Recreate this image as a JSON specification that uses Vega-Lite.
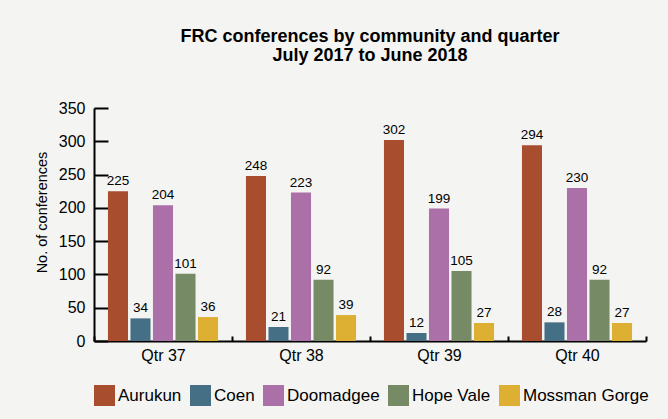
{
  "$schema": "https://vega.github.io/schema/vega-lite/v6.json",
  "autosize": "none",
  "width": 552,
  "height": 233,
  "padding": {"left": 94, "top": 108, "right": 22, "bottom": 78},
  "background": "#f4f4f2",
  "title": {
    "text": ["FRC conferences by community and quarter", "July 2017 to June 2018"],
    "font": "Liberation Sans",
    "fontSize": 18,
    "fontWeight": "bold",
    "color": "#000000",
    "anchor": "middle",
    "offset": 35,
    "lineHeight": 19
  },
  "data": {
    "values": [
      {"quarter": "Qtr 37", "community": "Aurukun", "value": 225},
      {"quarter": "Qtr 37", "community": "Coen", "value": 34},
      {"quarter": "Qtr 37", "community": "Doomadgee", "value": 204},
      {"quarter": "Qtr 37", "community": "Hope Vale", "value": 101},
      {"quarter": "Qtr 37", "community": "Mossman Gorge", "value": 36},
      {"quarter": "Qtr 38", "community": "Aurukun", "value": 248},
      {"quarter": "Qtr 38", "community": "Coen", "value": 21},
      {"quarter": "Qtr 38", "community": "Doomadgee", "value": 223},
      {"quarter": "Qtr 38", "community": "Hope Vale", "value": 92},
      {"quarter": "Qtr 38", "community": "Mossman Gorge", "value": 39},
      {"quarter": "Qtr 39", "community": "Aurukun", "value": 302},
      {"quarter": "Qtr 39", "community": "Coen", "value": 12},
      {"quarter": "Qtr 39", "community": "Doomadgee", "value": 199},
      {"quarter": "Qtr 39", "community": "Hope Vale", "value": 105},
      {"quarter": "Qtr 39", "community": "Mossman Gorge", "value": 27},
      {"quarter": "Qtr 40", "community": "Aurukun", "value": 294},
      {"quarter": "Qtr 40", "community": "Coen", "value": 28},
      {"quarter": "Qtr 40", "community": "Doomadgee", "value": 230},
      {"quarter": "Qtr 40", "community": "Hope Vale", "value": 92},
      {"quarter": "Qtr 40", "community": "Mossman Gorge", "value": 27}
    ]
  },
  "encoding": {
    "x": {
      "field": "quarter",
      "type": "nominal",
      "scale": {"paddingInner": 0, "paddingOuter": 0},
      "axis": {
        "title": null,
        "labelAngle": 0,
        "labelFont": "Liberation Sans",
        "labelFontSize": 16,
        "labelColor": "#000000",
        "labelPadding": 11,
        "domainColor": "#000000",
        "domainWidth": 2,
        "tickColor": "#000000",
        "tickWidth": 2,
        "tickSize": -5,
        "tickBand": "extent"
      }
    },
    "xOffset": {
      "field": "community",
      "type": "nominal",
      "scale": {"paddingInner": 0.11, "paddingOuter": 0.62}
    },
    "y": {
      "field": "value",
      "type": "quantitative",
      "scale": {"domain": [0, 350]},
      "axis": {
        "title": "No. of conferences",
        "titleFont": "Liberation Sans",
        "titleFontSize": 14.5,
        "titleFontWeight": "normal",
        "titleColor": "#000000",
        "titlePadding": 9,
        "titleY": 104,
        "values": [0, 50, 100, 150, 200, 250, 300, 350],
        "grid": false,
        "labelFont": "Liberation Sans",
        "labelFontSize": 16,
        "labelColor": "#000000",
        "labelPadding": 23,
        "domainColor": "#000000",
        "domainWidth": 2,
        "tickColor": "#000000",
        "tickWidth": 2,
        "tickSize": -14
      }
    }
  },
  "layer": [
    {
      "mark": {"type": "bar"},
      "encoding": {
        "color": {
          "field": "community",
          "type": "nominal",
          "scale": {
            "domain": ["Aurukun", "Coen", "Doomadgee", "Hope Vale", "Mossman Gorge"],
            "range": ["#a84e2e", "#456f84", "#ab70a8", "#778a66", "#ddb033"]
          },
          "legend": {
            "title": null,
            "orient": "bottom",
            "direction": "horizontal",
            "symbolType": "square",
            "symbolSize": 441,
            "symbolStrokeWidth": 0,
            "symbolOpacity": 1,
            "labelFont": "Liberation Sans",
            "labelFontSize": 17,
            "labelColor": "#000000",
            "labelOffset": 3,
            "columnPadding": 8,
            "offset": 22
          }
        }
      }
    },
    {
      "mark": {"type": "text", "dy": -10, "font": "Liberation Sans", "fontSize": 13.5, "color": "#000000"},
      "encoding": {
        "text": {"field": "value", "type": "quantitative"}
      }
    }
  ],
  "config": {
    "view": {"stroke": null},
    "axis": {"labelFlush": false}
  }
}
